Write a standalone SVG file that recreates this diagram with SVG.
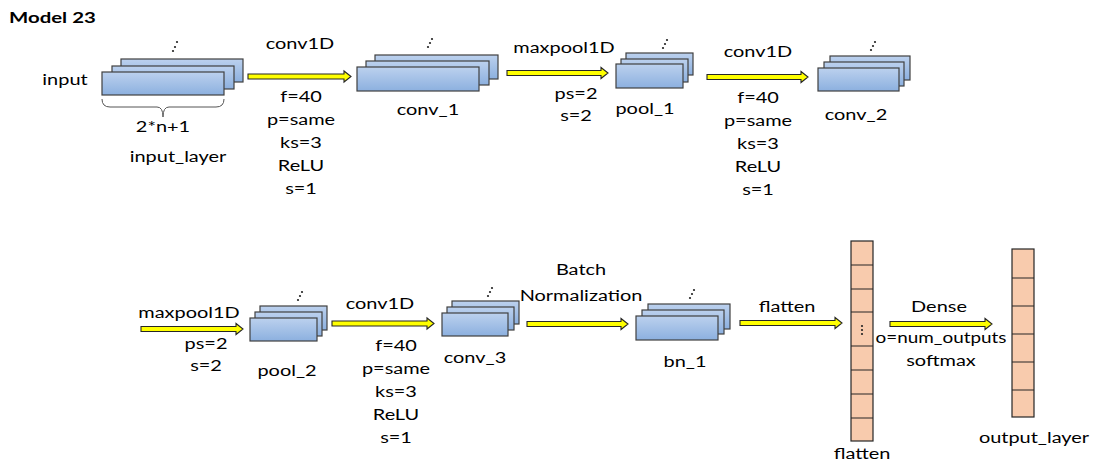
<svg xmlns="http://www.w3.org/2000/svg" width="1098" height="468" viewBox="0 0 1098 468">
<defs>
<linearGradient id="blueGrad" x1="0" y1="0" x2="0" y2="1">
<stop offset="0" stop-color="#bcd1ee"/>
<stop offset="1" stop-color="#8cb0df"/>
</linearGradient>
<style>
.bl{fill:url(#blueGrad);stroke:#404040;stroke-width:1.2}
.cell{fill:#f8cbad;stroke:#262626;stroke-width:1.2}
.div{stroke:#262626;stroke-width:1.2}
.arr{fill:#ffff00;stroke:#262626;stroke-width:1.1;stroke-linejoin:miter}
.t{font-family:Lato,"Liberation Sans",sans-serif;font-size:15px;fill:#000;text-anchor:middle}
.tb{font-family:Lato,"Liberation Sans",sans-serif;font-size:15px;font-weight:bold;fill:#000;text-anchor:start}
.dot{fill:#222}
.brace{fill:none;stroke:#555;stroke-width:1}
</style>
</defs>
<rect width="1098" height="468" fill="#ffffff"/>

<text class="tb" transform="translate(9 23) scale(1.36 1)">Model 23</text>

<g id="input_layer">
<rect class="bl" x="121" y="59" width="122" height="23"/>
<rect class="bl" x="112" y="66" width="122" height="23"/>
<rect class="bl" x="102" y="72" width="122" height="23"/>
<circle class="dot" cx="177" cy="42" r="1.1"/><circle class="dot" cx="175" cy="47" r="1.1"/><circle class="dot" cx="173" cy="51" r="1.1"/>
<path class="brace" d="M102,99 Q102,107 110,107 L157,107 Q163,107 163,117 Q163,107 169,107 L216,107 Q224,107 224,99"/>
<text class="t" transform="translate(65 85) scale(1.33 1)">input</text>
<text class="t" transform="translate(163 132) scale(1.33 1)">2*n+1</text>
<text class="t" transform="translate(178 162) scale(1.33 1)">input_layer</text>
</g>

<g id="conv_1">
<rect class="bl" x="375" y="55" width="123" height="24"/>
<rect class="bl" x="366" y="61" width="123" height="24"/>
<rect class="bl" x="357" y="67" width="122" height="24"/>
<circle class="dot" cx="432" cy="39" r="1.1"/><circle class="dot" cx="430" cy="43" r="1.1"/><circle class="dot" cx="428" cy="47" r="1.1"/>
<text class="t" transform="translate(428 115) scale(1.33 1)">conv_1</text>
</g>

<g id="pool_1">
<rect class="bl" x="626" y="53" width="67" height="22"/>
<rect class="bl" x="621" y="59" width="67" height="23"/>
<rect class="bl" x="616" y="64" width="67" height="24"/>
<circle class="dot" cx="667" cy="40" r="1.1"/><circle class="dot" cx="665" cy="44" r="1.1"/><circle class="dot" cx="663" cy="48" r="1.1"/>
<text class="t" transform="translate(645 114) scale(1.33 1)">pool_1</text>
</g>

<g id="conv_2">
<rect class="bl" x="830" y="56" width="80" height="24"/>
<rect class="bl" x="824" y="62" width="80" height="24"/>
<rect class="bl" x="818" y="68" width="81" height="23"/>
<circle class="dot" cx="875" cy="42" r="1.1"/><circle class="dot" cx="873" cy="46" r="1.1"/><circle class="dot" cx="871" cy="50" r="1.1"/>
<text class="t" transform="translate(856 120) scale(1.33 1)">conv_2</text>
</g>

<g id="pool_2">
<rect class="bl" x="260" y="306" width="67" height="24"/>
<rect class="bl" x="255" y="312" width="67" height="24"/>
<rect class="bl" x="250" y="318" width="67" height="23"/>
<circle class="dot" cx="302" cy="292" r="1.1"/><circle class="dot" cx="300" cy="296" r="1.1"/><circle class="dot" cx="298" cy="300" r="1.1"/>
<text class="t" transform="translate(287 376) scale(1.33 1)">pool_2</text>
</g>

<g id="conv_3">
<rect class="bl" x="452" y="301" width="67" height="23"/>
<rect class="bl" x="447" y="307" width="67" height="23"/>
<rect class="bl" x="442" y="313" width="66" height="23"/>
<circle class="dot" cx="492" cy="288" r="1.1"/><circle class="dot" cx="490" cy="292" r="1.1"/><circle class="dot" cx="488" cy="296" r="1.1"/>
<text class="t" transform="translate(475 363) scale(1.33 1)">conv_3</text>
</g>

<g id="bn_1">
<rect class="bl" x="648" y="304" width="82" height="25"/>
<rect class="bl" x="642" y="310" width="82" height="24"/>
<rect class="bl" x="636" y="316" width="82" height="24"/>
<circle class="dot" cx="694" cy="290" r="1.1"/><circle class="dot" cx="692" cy="294" r="1.1"/><circle class="dot" cx="690" cy="298" r="1.1"/>
<text class="t" transform="translate(685 367) scale(1.33 1)">bn_1</text>
</g>

<g id="flatten">
<rect class="cell" x="851" y="241" width="22" height="200"/>
<path class="div" d="M851,265H873M851,289H873M851,312H873M851,346H873M851,370H873M851,394H873M851,418H873"/>
<circle class="dot" cx="862" cy="326" r="1.1"/><circle class="dot" cx="862" cy="330" r="1.1"/><circle class="dot" cx="862" cy="334" r="1.1"/>
<text class="t" transform="translate(862 459) scale(1.33 1)">flatten</text>
</g>

<g id="output_layer">
<rect class="cell" x="1012" y="249" width="22" height="168"/>
<path class="div" d="M1012,278H1034M1012,306H1034M1012,334H1034M1012,362H1034M1012,390H1034"/>
<text class="t" transform="translate(1034 443) scale(1.33 1)">output_layer</text>
</g>

<g id="connectors">
<polygon class="arr" points="248,74 344,74 344,71 351,76.5 344,82 344,79 248,79"/>
<polygon class="arr" points="507,70.5 601,70.5 601,67.5 608,73 601,78.5 601,75.5 507,75.5"/>
<polygon class="arr" points="707,74.5 801,74.5 801,71.5 808,77 801,82.5 801,79.5 707,79.5"/>
<polygon class="arr" points="141,326.5 236,326.5 236,323.5 243,329 236,334.5 236,331.5 141,331.5"/>
<polygon class="arr" points="332,321 427,321 427,318 434,323.5 427,329 427,326 332,326"/>
<polygon class="arr" points="527,321.5 621,321.5 621,318.5 628,324 621,329.5 621,326.5 527,326.5"/>
<polygon class="arr" points="740,320.5 835,320.5 835,317.5 842,323 835,328.5 835,325.5 740,325.5"/>
<polygon class="arr" points="890,321.5 985,321.5 985,318.5 992,324 985,329.5 985,326.5 890,326.5"/>
</g>

<g id="labels">
<text class="t" transform="translate(300 49) scale(1.33 1)">conv1D</text>
<text class="t" transform="translate(301 102) scale(1.33 1)">f=40</text>
<text class="t" transform="translate(301 125) scale(1.33 1)">p=same</text>
<text class="t" transform="translate(301 148) scale(1.33 1)">ks=3</text>
<text class="t" transform="translate(301 171) scale(1.33 1)">ReLU</text>
<text class="t" transform="translate(301 194) scale(1.33 1)">s=1</text>

<text class="t" transform="translate(564 53) scale(1.33 1)">maxpool1D</text>
<text class="t" transform="translate(576 99) scale(1.33 1)">ps=2</text>
<text class="t" transform="translate(576 121) scale(1.33 1)">s=2</text>

<text class="t" transform="translate(758 57) scale(1.33 1)">conv1D</text>
<text class="t" transform="translate(758 103) scale(1.33 1)">f=40</text>
<text class="t" transform="translate(758 126) scale(1.33 1)">p=same</text>
<text class="t" transform="translate(758 149) scale(1.33 1)">ks=3</text>
<text class="t" transform="translate(758 172) scale(1.33 1)">ReLU</text>
<text class="t" transform="translate(758 195) scale(1.33 1)">s=1</text>

<text class="t" transform="translate(189 318) scale(1.33 1)">maxpool1D</text>
<text class="t" transform="translate(206 349) scale(1.33 1)">ps=2</text>
<text class="t" transform="translate(206 371) scale(1.33 1)">s=2</text>

<text class="t" transform="translate(380 309) scale(1.33 1)">conv1D</text>
<text class="t" transform="translate(396 351) scale(1.33 1)">f=40</text>
<text class="t" transform="translate(396 374) scale(1.33 1)">p=same</text>
<text class="t" transform="translate(396 397) scale(1.33 1)">ks=3</text>
<text class="t" transform="translate(396 420) scale(1.33 1)">ReLU</text>
<text class="t" transform="translate(396 443) scale(1.33 1)">s=1</text>

<text class="t" transform="translate(581 275) scale(1.33 1)">Batch</text>
<text class="t" transform="translate(581 301) scale(1.33 1)">Normalization</text>

<text class="t" transform="translate(787 312) scale(1.33 1)">flatten</text>

<text class="t" transform="translate(939 312) scale(1.33 1)">Dense</text>
<text class="t" transform="translate(941 343) scale(1.26 1)">o=num_outputs</text>
<text class="t" transform="translate(941 366) scale(1.33 1)">softmax</text>
</g>
</svg>
